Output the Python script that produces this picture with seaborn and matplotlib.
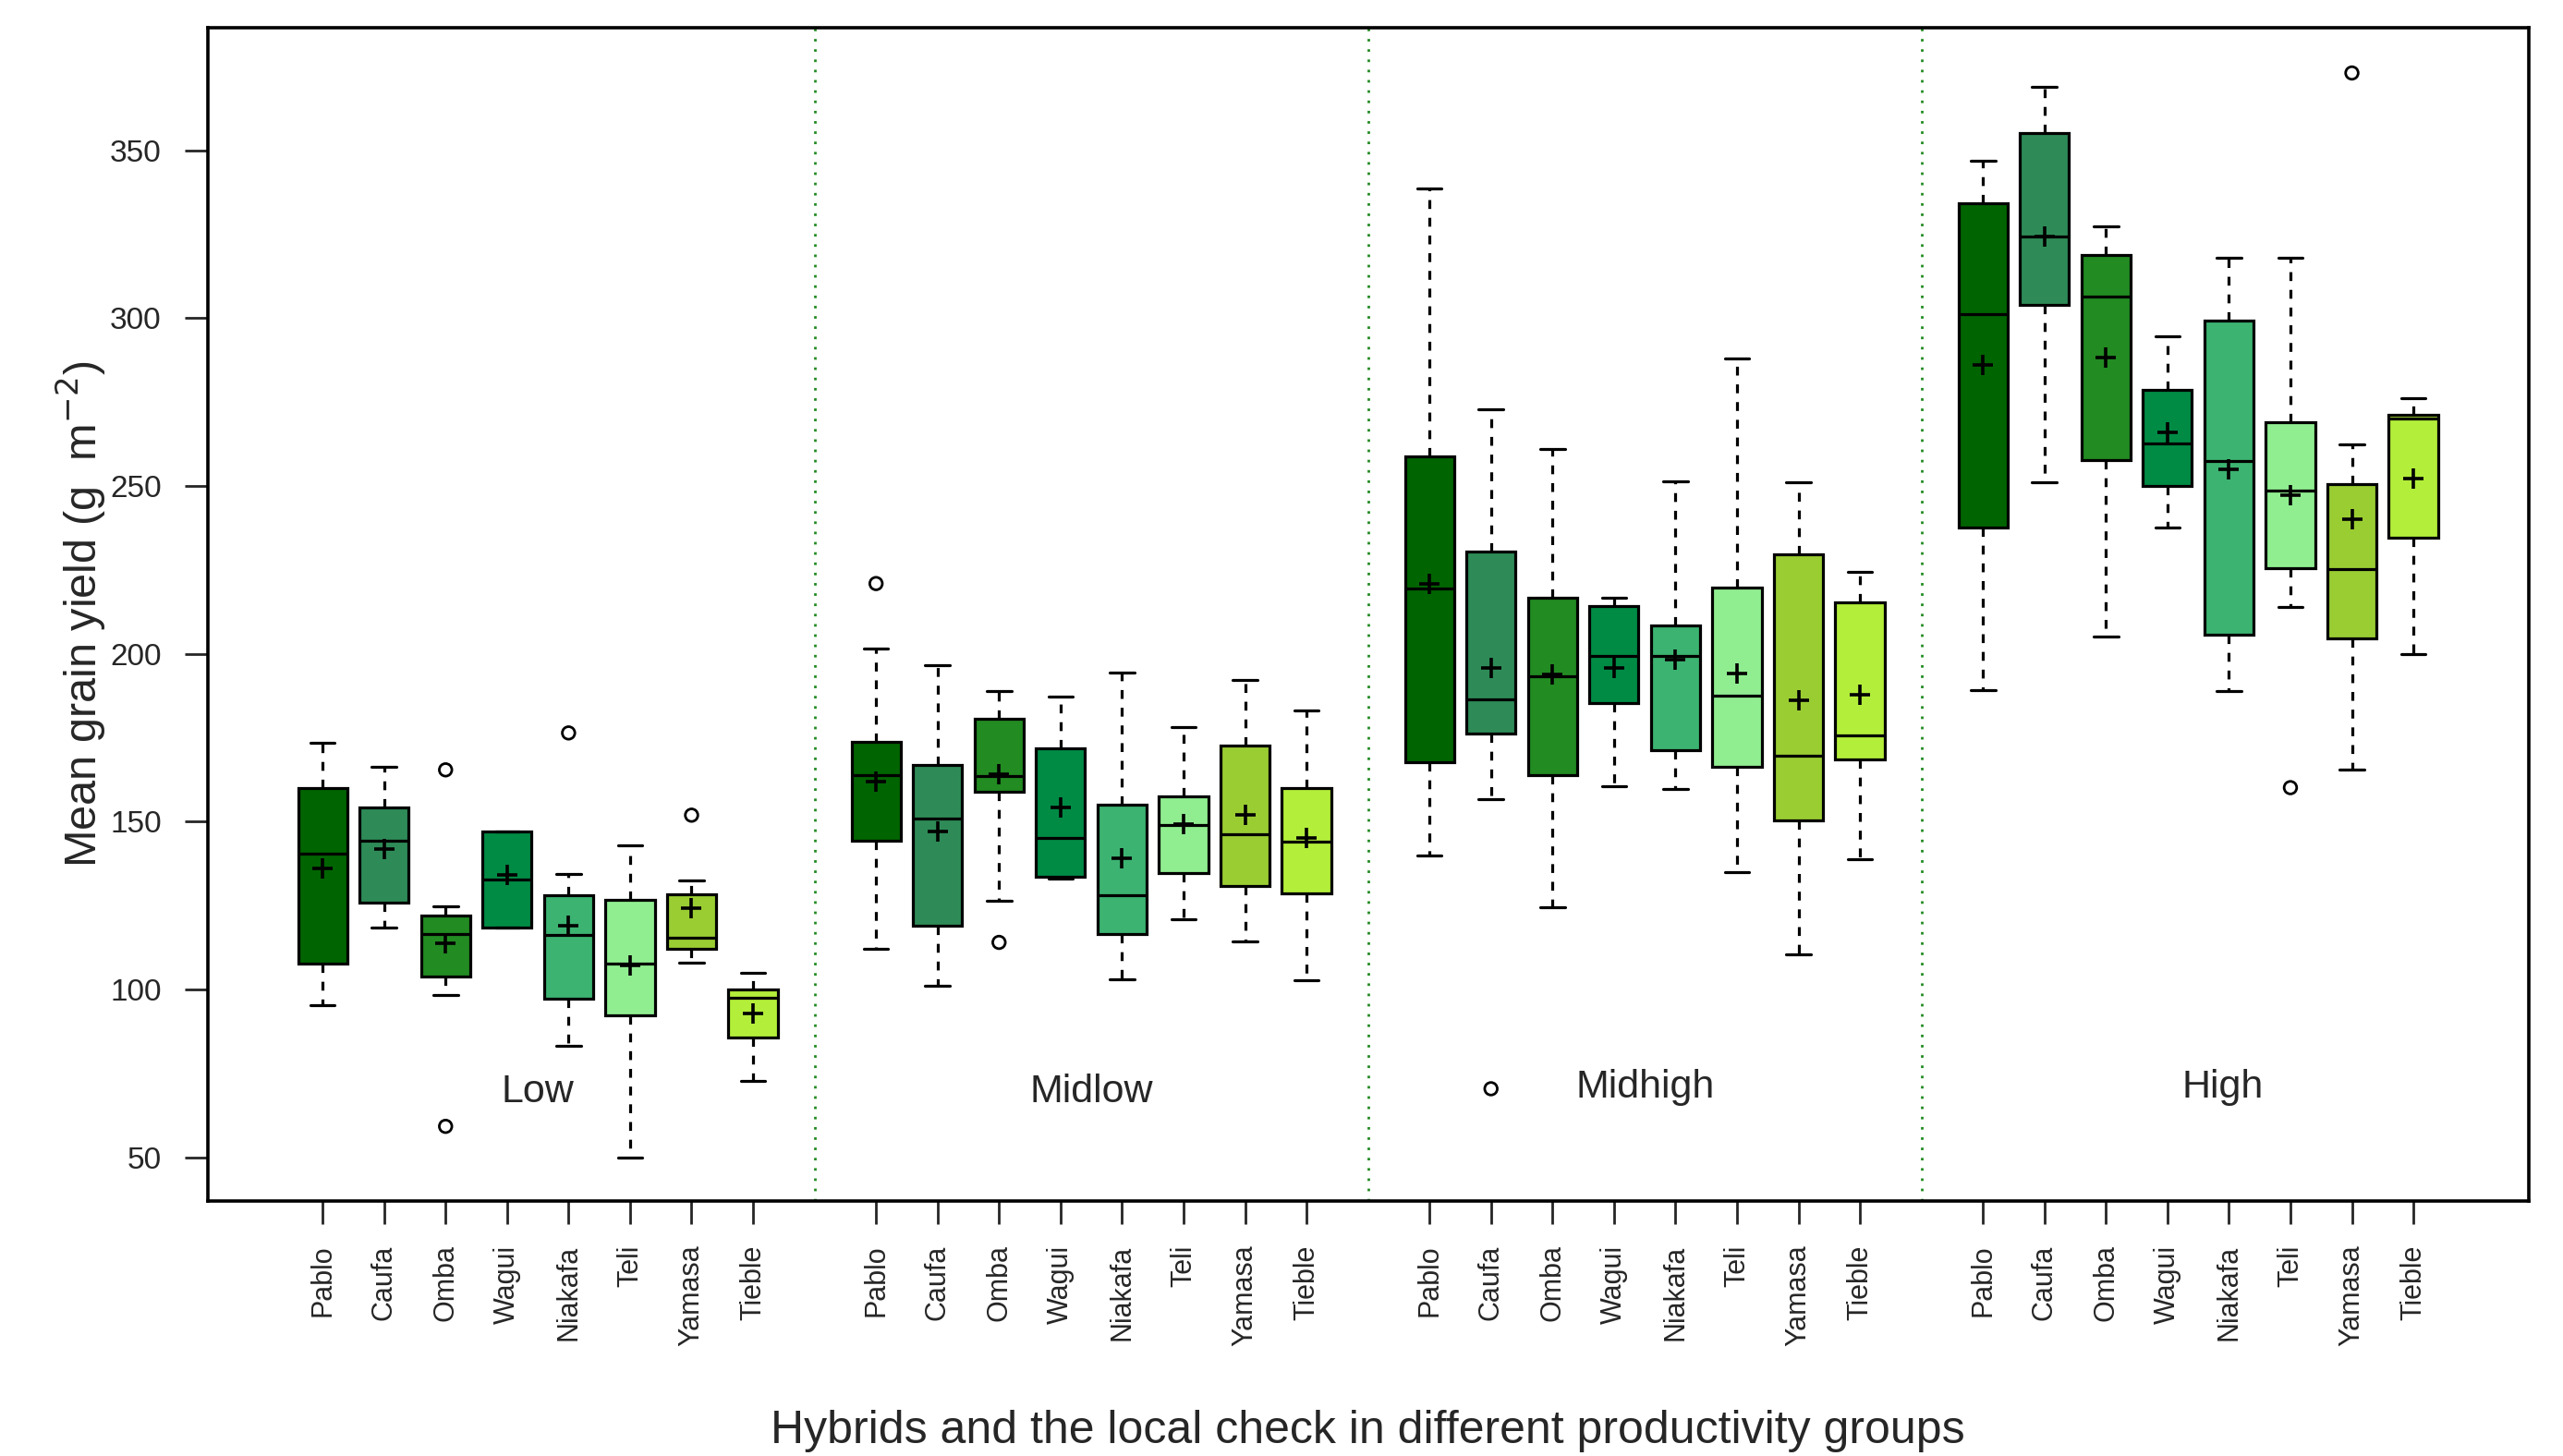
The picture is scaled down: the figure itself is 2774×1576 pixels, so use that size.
import numpy as np
import pandas as pd
import matplotlib
matplotlib.use("Agg")
import matplotlib.pyplot as plt
import seaborn as sns

groups = ["Low", "Midlow", "Midhigh", "High"]
hybrids = ["Pablo", "Caufa", "Omba", "Wagui", "Niakafa", "Teli", "Yamasa", "Tieble"]
colors = ["#006400", "#2E8B57", "#228B22", "#008B45", "#3CB371", "#90EE90", "#9ACD32", "#B3EE3A"]

# box stats, one row per group, hybrids in order
whisker_lo = [
    [95.2, 118.3, 98.4, 118.3, 83.1, 49.8, 108.0, 72.7],
    [112.2, 101.2, 126.3, 133.0, 103.0, 120.8, 114.3, 102.7],
    [139.8, 156.6, 124.6, 160.4, 159.7, 135.0, 110.4, 138.9],
    [189.1, 251.0, 205.0, 237.5, 188.8, 214.0, 165.4, 200.0],
]
q1 = [
    [107.6, 125.9, 103.9, 118.3, 97.2, 92.2, 112.2, 85.8],
    [144.3, 119.1, 159.0, 133.5, 116.6, 134.7, 130.9, 128.5],
    [167.8, 176.3, 163.7, 185.3, 171.2, 166.2, 150.4, 168.4],
    [237.5, 304.0, 257.7, 250.1, 205.7, 225.6, 204.5, 234.5],
]
median = [
    [140.5, 144.3, 116.5, 132.7, 116.3, 107.6, 115.3, 97.5],
    [163.9, 150.9, 163.6, 145.0, 128.0, 148.9, 146.1, 144.1],
    [219.3, 186.4, 193.4, 199.3, 199.3, 187.6, 169.6, 175.7],
    [301.2, 324.3, 306.4, 262.7, 257.4, 248.6, 225.3, 270.0],
]
q3 = [
    [159.9, 154.1, 122.0, 147.1, 128.0, 126.6, 128.3, 100.0],
    [173.7, 166.8, 180.6, 171.8, 155.1, 157.5, 172.7, 160.1],
    [258.8, 230.3, 216.7, 214.2, 208.5, 219.6, 229.6, 215.3],
    [334.1, 355.1, 318.8, 278.6, 299.2, 269.1, 250.6, 271.3],
]
whisker_hi = [
    [173.6, 166.3, 124.8, 147.1, 134.4, 142.9, 132.4, 104.9],
    [201.5, 196.6, 189.0, 187.2, 194.4, 178.2, 192.1, 183.1],
    [338.7, 272.7, 261.1, 216.7, 251.4, 287.9, 251.0, 224.3],
    [346.9, 368.9, 327.4, 294.5, 317.9, 317.9, 262.4, 276.0],
]
means = [
    [136.0, 141.8, 113.8, 134.0, 119.0, 107.0, 124.1, 92.9],
    [162.0, 147.1, 164.0, 154.1, 139.1, 149.2, 152.1, 145.0],
    [220.8, 195.8, 193.9, 195.8, 198.1, 194.0, 186.0, 187.9],
    [286.1, 324.3, 288.2, 265.9, 255.0, 247.3, 240.0, 252.1],
]
outliers = [
    ("Low", "Omba", 165.4), ("Low", "Omba", 59.2), ("Low", "Niakafa", 176.4),
    ("Low", "Yamasa", 151.9), ("Midlow", "Pablo", 220.9), ("Midlow", "Omba", 114.0),
    ("Midhigh", "Caufa", 70.4), ("High", "Teli", 160.1), ("High", "Yamasa", 373.0),
]


def position(g, h):
    # 8 boxes per group, one empty slot between groups
    return groups.index(g) * 9 + hybrids.index(h) + 1


rows = []
mean_rows = []
for gi, g in enumerate(groups):
    for hi, h in enumerate(hybrids):
        for stat in (whisker_lo, q1, median, q3, whisker_hi):
            rows.append({"group": g, "hybrid": h, "pos": position(g, h), "value": stat[gi][hi]})
        mean_rows.append({"hybrid": h, "pos": position(g, h), "mean": means[gi][hi]})
box_df = pd.DataFrame(rows)
mean_df = pd.DataFrame(mean_rows)
out_df = pd.DataFrame(outliers, columns=["group", "hybrid", "value"])
out_df["pos"] = [position(g, h) for g, h in zip(out_df.group, out_df.hybrid)]

sns.set_theme(style="white")
plt.rcParams["font.family"] = ["Liberation Sans", "DejaVu Sans"]

fig = plt.figure(figsize=(13.87, 7.88), dpi=200)
ax = fig.add_axes([0.081, 0.175, 0.9055, 0.806])

sns.boxplot(data=box_df, x="pos", y="value", hue="hybrid", hue_order=hybrids,
            palette=dict(zip(hybrids, colors)), native_scale=True, dodge=False,
            whis=np.inf, width=0.8, saturation=1, linecolor="black", linewidth=1.15,
            legend=False, whiskerprops=dict(linestyle=(0, (3, 3))), ax=ax)
sns.scatterplot(data=mean_df, x="pos", y="mean", marker="+", s=60, color="black",
                linewidth=1.3, zorder=5, ax=ax)
sns.scatterplot(data=out_df, x="pos", y="value", marker="o", s=24, facecolor="none",
                edgecolor="black", linewidth=1.0, zorder=5, ax=ax)

for x in [9, 18, 27]:
    ax.axvline(x, color="#228B22", linestyle=(0, (1, 3)), linewidth=1.0)

label_x = [4.5, 13.5, 22.5, 31.9]
label_y = [69.4, 69.4, 70.9, 70.9]
for g, lx, ly in zip(groups, label_x, label_y):
    ax.text(lx, ly, g, ha="center", va="center", fontsize=15.5)

ax.set_xlim(-0.87, 36.87)
ax.set_ylim(36.9, 386.5)
ax.set_xticks([position(g, h) for g in groups for h in hybrids])
ax.set_xticklabels(hybrids * 4, rotation=90, fontsize=11)
ax.set_yticks([50, 100, 150, 200, 250, 300, 350])
ax.tick_params(axis="y", labelsize=12, length=9, width=1, pad=9, left=True, direction="out")
ax.tick_params(axis="x", length=9, width=1, pad=8, bottom=True, direction="out")
for sp in ax.spines.values():
    sp.set_visible(True)
    sp.set_color("black")
    sp.set_linewidth(1.3)

ax.set_xlabel("Hybrids and the local check in different productivity groups", fontsize=18)
ax.set_ylabel("Mean grain yield (g  m$^{-2}$)", fontsize=17.5)
ax.xaxis.set_label_coords(0.5, -0.178)
ax.yaxis.set_label_coords(-0.043, 0.5)

fig.savefig("out.png", dpi=200)
